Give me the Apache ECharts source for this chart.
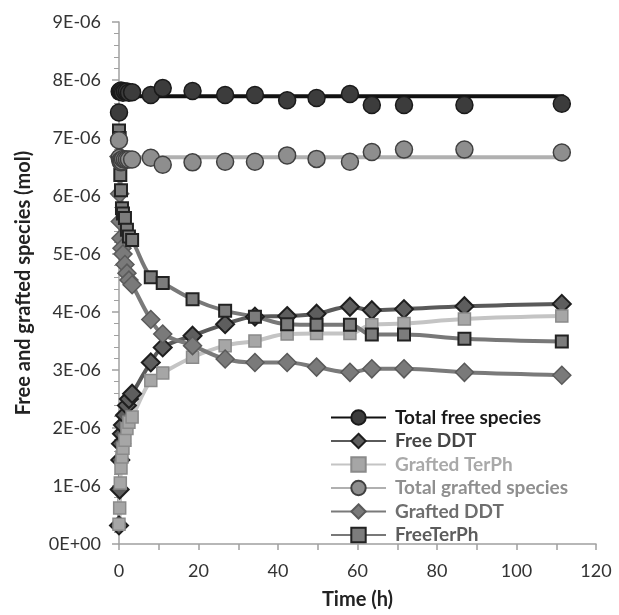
<!DOCTYPE html>
<html>
<head>
<meta charset="utf-8">
<script src="https://cdn.jsdelivr.net/npm/echarts@6.0.0/dist/echarts.min.js"></script>
<style>
html, body { margin: 0; background: #fff; }
#chart { width: 619px; height: 615px; }
</style>
</head>
<body>
<div id="chart"></div>
<script>
// time (h)
const times = [0, 0.17, 0.33, 0.5, 0.75, 1, 1.5, 2, 2.5, 3.3, 8, 11, 18.5, 26.7, 34.2, 42.3, 49.7, 58.1, 63.6, 71.7, 86.9, 111.4]

// values in 1E-06 mol
const totalFree = [7.44, 7.8, 7.8, 7.82, 7.8, 7.78, 7.8, 7.8, 7.78, 7.79, 7.74, 7.86, 7.81, 7.74, 7.74, 7.65, 7.69, 7.76, 7.57, 7.57, 7.57, 7.59]
const freeDDT = [0.32, 0.94, 1.45, 1.73, 1.9, 2.05, 2.22, 2.39, 2.5, 2.59, 3.13, 3.39, 3.59, 3.79, 3.92, 3.93, 3.97, 4.09, 4.03, 4.05, 4.1, 4.14]
const graftedTerPh = [0.34, 0.62, 1.05, 1.31, 1.5, 1.65, 1.79, 1.99, 2.1, 2.19, 2.82, 2.95, 3.22, 3.42, 3.5, 3.62, 3.63, 3.63, 3.78, 3.8, 3.88, 3.93]
const totalGrafted = [6.96, 6.66, 6.61, 6.58, 6.6, 6.64, 6.63, 6.63, 6.63, 6.63, 6.66, 6.54, 6.58, 6.59, 6.59, 6.7, 6.64, 6.59, 6.76, 6.8, 6.8, 6.75]
const graftedDDT = [6.68, 6.04, 5.56, 5.27, 5.1, 5.0, 4.82, 4.67, 4.55, 4.47, 3.87, 3.62, 3.42, 3.19, 3.13, 3.13, 3.05, 2.96, 3.02, 3.02, 2.96, 2.91]
const freeTerPh = [7.13, 7.0, 6.36, 6.1, 5.79, 5.7, 5.62, 5.42, 5.3, 5.24, 4.6, 4.5, 4.22, 4.02, 3.92, 3.79, 3.78, 3.78, 3.61, 3.61, 3.54, 3.49]

// horizontal mean lines of the two totals
const meanSpan = [0, 112]
const totalFreeMean = 7.72
const totalGraftedMean = 6.67

const legendNames = ['Total free species', 'Free DDT', 'Grafted TerPh', 'Total grafted species', 'Grafted DDT', 'FreeTerPh']
const legendColors = ['#1a1a1a', '#454545', '#a9a9a9', '#8f8f8f', '#6e6e6e', '#5c5c5c']

const font = 'Lato'

function pairs (vals) {
  return times.map((t, i) => [t, vals[i]])
}

function meanLine (name, value, lineColor, symbol, fill, border) {
  return {
    name: name,
    type: 'line',
    data: meanSpan.map(t => [t, value]),
    symbol: symbol,
    symbolSize: 17,
    showSymbol: false,
    silent: true,
    lineStyle: { color: lineColor, width: 4 },
    itemStyle: { color: fill, borderColor: border, borderWidth: 1.5 },
    z: 2
  }
}

function curve (name, vals, opts) {
  return {
    name: name,
    type: 'line',
    data: pairs(vals),
    smooth: 0.4,
    clip: false,
    symbol: opts.symbol,
    symbolSize: opts.size,
    lineStyle: { color: opts.line, width: 4 },
    itemStyle: { color: opts.fill, borderColor: opts.border, borderWidth: opts.bw || 1.5 },
    z: 3
  }
}

function dots (name, vals, fill, border) {
  return {
    name: name,
    type: 'scatter',
    data: pairs(vals),
    clip: false,
    symbol: 'circle',
    symbolSize: 17,
    itemStyle: { color: fill, borderColor: border, borderWidth: 1.5, opacity: 1 },
    z: 3
  }
}

const chart = echarts.init(document.getElementById('chart'))

const option = {
  animation: false,
  backgroundColor: '#fff',
  grid: { left: 119, right: 23, top: 22, bottom: 67 },
  legend: {
    orient: 'vertical',
    left: 325,
    top: 403,
    itemWidth: 55,
    itemHeight: 18,
    itemGap: 4.5,
    selectedMode: false,
    textStyle: { fontFamily: font, fontWeight: 'bold', fontSize: 19 },
    data: legendNames.map((n, i) => ({
      name: n,
      textStyle: { color: legendColors[i], fontFamily: font, fontWeight: 'bold', fontSize: 19, padding: [0, 0, 0, 4] }
    }))
  },
  xAxis: {
    type: 'value',
    min: 0,
    max: 120,
    interval: 20,
    name: 'Time (h)',
    nameLocation: 'middle',
    nameGap: 46,
    nameTextStyle: { fontFamily: font, fontWeight: 'bold', fontSize: 20, color: '#222' },
    axisLine: { show: true, lineStyle: { color: '#a0a0a0', width: 1.5 } },
    axisTick: { show: true, length: 6, lineStyle: { color: '#a0a0a0', width: 1.5 } },
    minorTick: { show: true, splitNumber: 2, length: 6, lineStyle: { color: '#a0a0a0', width: 1.5 } },
    axisLabel: { fontFamily: font, fontSize: 18, color: '#333', margin: 18 },
    splitLine: { show: false }
  },
  yAxis: {
    type: 'value',
    min: 0,
    max: 9,
    interval: 1,
    name: 'Free and grafted species (mol)',
    nameLocation: 'middle',
    nameGap: 85,
    nameTextStyle: { fontFamily: font, fontWeight: 'bold', fontSize: 20, color: '#222' },
    axisLine: { show: true, lineStyle: { color: '#a0a0a0', width: 1.5 } },
    axisTick: { show: true, length: 7, lineStyle: { color: '#a0a0a0', width: 1.5 } },
    minorTick: { show: true, splitNumber: 5, length: 5, lineStyle: { color: '#a0a0a0', width: 1 } },
    axisLabel: {
      fontFamily: font,
      fontSize: 18,
      color: '#333',
      margin: 18,
      formatter: v => (v === 0 ? '0E+00' : v + 'E-06')
    },
    splitLine: { show: false }
  },
  series: [
    meanLine('Total free species', totalFreeMean, '#111', 'circle', '#3c3c3c', '#1a1a1a'),
    curve('Free DDT', freeDDT, { symbol: 'diamond', size: 18, line: '#5a5a5a', fill: '#5e5e5e', border: '#1e1e1e', bw: 2 }),
    curve('Grafted TerPh', graftedTerPh, { symbol: 'rect', size: 12, line: '#c4c4c4', fill: '#a6a6a6', border: '#8a8a8a' }),
    meanLine('Total grafted species', totalGraftedMean, '#b0b0b0', 'circle', '#8e8e8e', '#404040'),
    curve('Grafted DDT', graftedDDT, { symbol: 'diamond', size: 18, line: '#7a7a7a', fill: '#7a7a7a', border: '#5a5a5a' }),
    curve('FreeTerPh', freeTerPh, { symbol: 'rect', size: 12, line: '#787878', fill: '#7c7c7c', border: '#222', bw: 2 }),
    dots('Total free species', totalFree, '#3c3c3c', '#1a1a1a'),
    dots('Total grafted species', totalGrafted, '#8e8e8e', '#404040')
  ]
}

chart.setOption(option)
window.addEventListener('resize', () => chart.resize())
</script>
</body>
</html>
